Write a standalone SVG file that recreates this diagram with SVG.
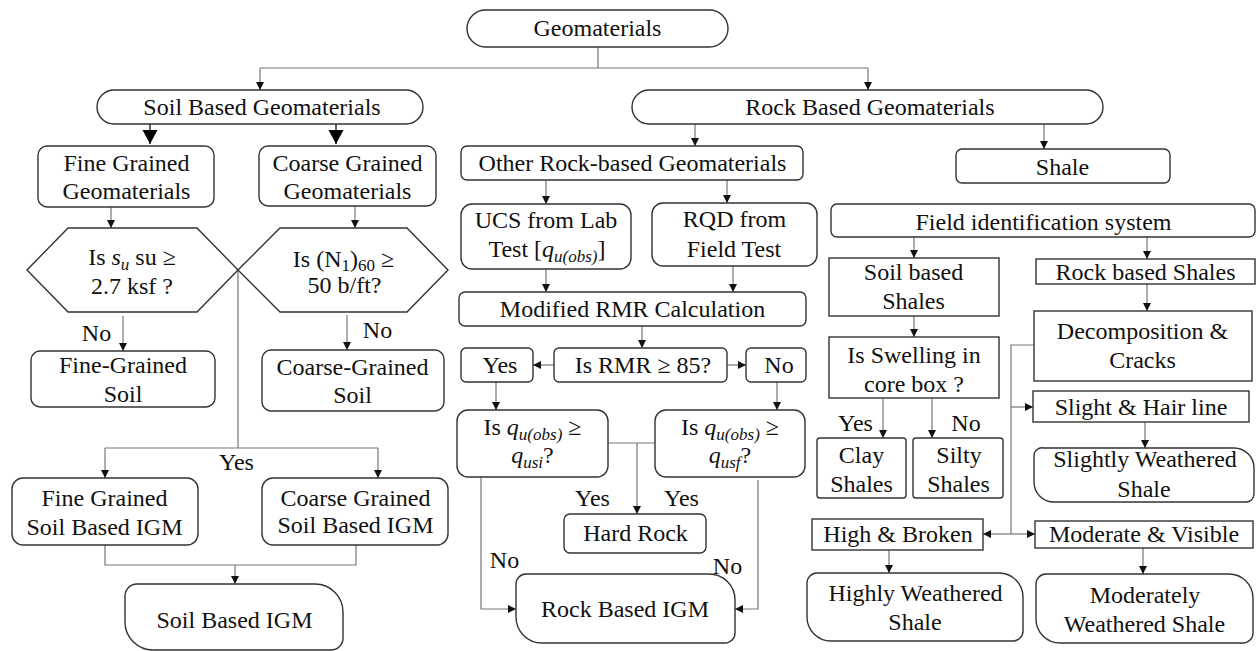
<svg xmlns="http://www.w3.org/2000/svg" width="1256" height="651" viewBox="0 0 1256 651" font-family="Liberation Serif, Times New Roman, serif">
<style>
.n{fill:#fff;stroke:#333;stroke-width:1.4}
.t{font-size:24px;fill:#111;text-anchor:middle}
.m{font-style:italic}
.s{font-size:17px}
.c{fill:none;stroke:#777;stroke-width:1.2}
.b{fill:none;stroke:#222;stroke-width:1.4}
</style>
<defs>
<marker id="a" markerUnits="userSpaceOnUse" markerWidth="9" markerHeight="9" refX="8" refY="4" orient="auto"><path d="M0,0 L8,4 L0,8 z" fill="#111"/></marker>
<marker id="big" markerUnits="userSpaceOnUse" markerWidth="15" markerHeight="16" refX="14" refY="7.5" orient="auto"><path d="M0,0 L14,7.5 L0,15 z" fill="#000"/></marker>
</defs>
<rect width="1256" height="651" fill="#fff"/>
<g font-family="Liberation Serif, Times New Roman, serif">
<g id="connectors">
<path class="c" d="M598,47 V68 M260,68 H868"/>
<path class="c" d="M260,68 V90" marker-end="url(#a)"/>
<path class="c" d="M868,68 V90" marker-end="url(#a)"/>
<path class="b" d="M150,124 V144" marker-end="url(#big)"/>
<path class="b" d="M336,124 V144" marker-end="url(#big)"/>
<path class="c" d="M111,207 V228" marker-end="url(#a)"/>
<path class="c" d="M355,206 V228" marker-end="url(#a)"/>
<path class="c" d="M123,316 V351" marker-end="url(#a)"/>
<path class="c" d="M347,315 V350" marker-end="url(#a)"/>
<path class="c" d="M238,270 V448 M105,448 H378"/>
<path class="c" d="M105,448 V478" marker-end="url(#a)"/>
<path class="c" d="M378,448 V478" marker-end="url(#a)"/>
<path class="c" d="M105,545 V565 H356 V545"/>
<path class="c" d="M235,565 V584" marker-end="url(#a)"/>
<path class="c" d="M695,124 V146" marker-end="url(#a)"/>
<path class="c" d="M1044,124 V149" marker-end="url(#a)"/>
<path class="c" d="M546,180 V204" marker-end="url(#a)"/>
<path class="c" d="M727,180 V203" marker-end="url(#a)"/>
<path class="c" d="M546,269 V292" marker-end="url(#a)"/>
<path class="c" d="M733,266 V292" marker-end="url(#a)"/>
<path class="c" d="M642,326 V348" marker-end="url(#a)"/>
<path class="c" d="M554,365 H533" marker-end="url(#a)"/>
<path class="c" d="M727,365 H746" marker-end="url(#a)"/>
<path class="c" d="M496,382 V410" marker-end="url(#a)"/>
<path class="c" d="M777,382 V410" marker-end="url(#a)"/>
<path class="c" d="M608,443 H655"/>
<path class="c" d="M637,443 V514" marker-end="url(#a)"/>
<path class="c" d="M481,477 V609 H516" marker-end="url(#a)"/>
<path class="c" d="M758,480 V609 H735" marker-end="url(#a)"/>
<path class="c" d="M914,237 V258" marker-end="url(#a)"/>
<path class="c" d="M1147,237 V259" marker-end="url(#a)"/>
<path class="c" d="M914,316 V337" marker-end="url(#a)"/>
<path class="c" d="M883,398 V438" marker-end="url(#a)"/>
<path class="c" d="M932,398 V438" marker-end="url(#a)"/>
<path class="c" d="M1147,284 V311" marker-end="url(#a)"/>
<path class="c" d="M1034,345 H1011 V534"/>
<path class="c" d="M1011,407 H1033" marker-end="url(#a)"/>
<path class="c" d="M1011,534 H983" marker-end="url(#a)"/>
<path class="c" d="M1011,534 H1035" marker-end="url(#a)"/>
<path class="c" d="M1145,422 V448" marker-end="url(#a)"/>
<path class="c" d="M889,550 V573" marker-end="url(#a)"/>
<path class="c" d="M1143,548 V574" marker-end="url(#a)"/>
<text class="t" x="96.5" y="341">No</text>
<text class="t" x="377.5" y="338">No</text>
<text class="t" x="236.5" y="470">Yes</text>
<text class="t" x="592.5" y="506">Yes</text>
<text class="t" x="681.5" y="506">Yes</text>
<text class="t" x="504.5" y="568">No</text>
<text class="t" x="727.5" y="574">No</text>
<text class="t" x="855.5" y="431">Yes</text>
<text class="t" x="966" y="431">No</text>
</g>

<g id="geomaterials"><rect class="n" x="467" y="10" width="261" height="37" rx="18.5"/><text class="t" x="597.5" y="36">Geomaterials</text></g>
<g id="soil-based"><rect class="n" x="97" y="90" width="326" height="34" rx="17"/><text class="t" x="262" y="115">Soil Based Geomaterials</text></g>
<g id="rock-based"><rect class="n" x="632" y="90" width="471" height="34" rx="17"/><text class="t" x="870" y="115">Rock Based Geomaterials</text></g>

<g id="fine-geo"><rect class="n" x="38" y="146" width="176" height="61" rx="9"/><text class="t" x="126.5" y="171">Fine Grained</text><text class="t" x="126.5" y="199">Geomaterials</text></g>
<g id="coarse-geo"><rect class="n" x="259" y="146" width="177" height="60" rx="9"/><text class="t" x="347.5" y="171">Coarse Grained</text><text class="t" x="347.5" y="199">Geomaterials</text></g>

<g id="hex-su"><path class="n" d="M27,270 L68,228 H197 L238,270 L197,312 H68 Z"/><text class="t" x="132" y="265">Is <tspan class="m">s</tspan><tspan class="m s" dy="5">u</tspan><tspan dy="-5"> su ≥</tspan></text><text class="t" x="132" y="294">2.7 ksf ?</text></g>
<g id="hex-n60"><path class="n" d="M238,270 L280,228 H407 L448,270 L407,312 H280 Z"/><text class="t" x="343.5" y="267">Is (N<tspan class="s" baseline-shift="-4">1</tspan>)<tspan class="s" baseline-shift="-4">60</tspan> ≥</text><text class="t" x="344.5" y="293">50 b/ft?</text></g>

<g id="fine-soil"><rect class="n" x="31" y="351" width="184" height="56" rx="9"/><text class="t" x="123" y="373">Fine-Grained</text><text class="t" x="123" y="402">Soil</text></g>
<g id="coarse-soil"><rect class="n" x="262" y="350" width="182" height="61" rx="9"/><text class="t" x="352.5" y="375">Coarse-Grained</text><text class="t" x="352.5" y="403">Soil</text></g>

<g id="fine-igm"><rect class="n" x="12" y="478" width="186" height="67" rx="11"/><text class="t" x="104.5" y="506">Fine Grained</text><text class="t" x="104.5" y="535">Soil Based IGM</text></g>
<g id="coarse-igm"><rect class="n" x="262" y="478" width="186" height="67" rx="11"/><text class="t" x="355.5" y="506">Coarse Grained</text><text class="t" x="355.5" y="533">Soil Based IGM</text></g>
<g id="soil-igm"><path class="n" d="M137,584 H315 A28,28 0 0 1 343,612 V638 A12,12 0 0 1 331,650 H153 A28,28 0 0 1 125,622 V596 A12,12 0 0 1 137,584 Z"/><text class="t" x="234.5" y="628">Soil Based IGM</text></g>

<g id="other-rock"><rect class="n" x="461" y="146" width="342" height="34" rx="6"/><text class="t" x="632.5" y="171">Other Rock-based Geomaterials</text></g>
<g id="ucs"><rect class="n" x="461" y="204" width="170" height="65" rx="11"/><text class="t" x="546" y="228">UCS from Lab</text><text class="t" x="547" y="257">Test [<tspan class="m">q</tspan><tspan class="m s" dy="5">u(obs)</tspan><tspan dy="-5">]</tspan></text></g>
<g id="rqd"><rect class="n" x="652" y="203" width="165" height="63" rx="11"/><text class="t" x="734.5" y="227">RQD from</text><text class="t" x="734" y="257">Field Test</text></g>
<g id="rmr-calc"><rect class="n" x="459" y="292" width="347" height="34" rx="6"/><text class="t" x="632.5" y="317">Modified RMR Calculation</text></g>
<g id="rmr-q"><rect class="n" x="554" y="348" width="173" height="34" rx="5"/><text class="t" x="643" y="373">Is RMR ≥ 85?</text></g>
<g id="rmr-yes"><rect class="n" x="461" y="348" width="72" height="34" rx="5"/><text class="t" x="500" y="373">Yes</text></g>
<g id="rmr-no"><rect class="n" x="746" y="348" width="60" height="34" rx="5"/><text class="t" x="779" y="373">No</text></g>
<g id="q-usi"><rect class="n" x="457" y="410" width="151" height="67" rx="11"/><text class="t" x="532.5" y="435">Is <tspan class="m">q</tspan><tspan class="m s" dy="5">u(obs)</tspan><tspan dy="-5"> ≥</tspan></text><text class="t" x="532.5" y="463"><tspan class="m">q</tspan><tspan class="m s" dy="5">usi</tspan><tspan dy="-5">?</tspan></text></g>
<g id="q-usf"><rect class="n" x="655" y="410" width="150" height="67" rx="11"/><text class="t" x="730" y="435">Is <tspan class="m">q</tspan><tspan class="m s" dy="5">u(obs)</tspan><tspan dy="-5"> ≥</tspan></text><text class="t" x="730" y="463"><tspan class="m">q</tspan><tspan class="m s" dy="5">usf</tspan><tspan dy="-5">?</tspan></text></g>
<g id="hard-rock"><rect class="n" x="564" y="514" width="142" height="39" rx="6"/><text class="t" x="635.5" y="541">Hard Rock</text></g>
<g id="rock-igm"><path class="n" d="M526,574 H709 A26,26 0 0 1 735,600 V633 A10,10 0 0 1 725,643 H542 A26,26 0 0 1 516,617 V584 A10,10 0 0 1 526,574 Z"/><text class="t" x="625" y="617">Rock Based IGM</text></g>

<g id="shale"><rect class="n" x="956" y="149" width="214" height="34" rx="6"/><text class="t" x="1062.5" y="175">Shale</text></g>
<g id="field-id"><rect class="n" x="831" y="204" width="424" height="33" rx="6"/><text class="t" x="1043.5" y="230">Field identification system</text></g>
<g id="soil-shales"><rect class="n" x="829" y="258" width="170" height="58"/><text class="t" x="913.5" y="280">Soil based</text><text class="t" x="913.5" y="309">Shales</text></g>
<g id="rock-shales"><rect class="n" x="1036" y="259" width="219" height="25"/><text class="t" x="1145.5" y="280">Rock based Shales</text></g>
<g id="swelling"><rect class="n" x="829" y="337" width="170" height="61"/><text class="t" x="914" y="363">Is Swelling in</text><text class="t" x="914" y="392">core box ?</text></g>
<g id="clay"><rect class="n" x="817" y="438" width="89" height="60" rx="3"/><text class="t" x="861.5" y="463">Clay</text><text class="t" x="861.5" y="492">Shales</text></g>
<g id="silty"><rect class="n" x="913" y="438" width="90" height="60" rx="3"/><text class="t" x="959" y="463">Silty</text><text class="t" x="958.5" y="492">Shales</text></g>
<g id="decomp"><rect class="n" x="1034" y="311" width="218" height="70"/><text class="t" x="1142.5" y="339">Decomposition &amp;</text><text class="t" x="1142.5" y="368">Cracks</text></g>
<g id="slight"><rect class="n" x="1033" y="391" width="216" height="31"/><text class="t" x="1141" y="415">Slight &amp; Hair line</text></g>
<g id="slightly-w"><path class="n" d="M1044,448 H1234 A20,20 0 0 1 1254,468 V494 A8,8 0 0 1 1246,502 H1054 A20,20 0 0 1 1034,482 V456 A8,8 0 0 1 1044,448 Z"/><text class="t" x="1145" y="467">Slightly Weathered</text><text class="t" x="1144" y="497">Shale</text></g>
<g id="high-broken"><rect class="n" x="812" y="519" width="171" height="31"/><text class="t" x="898" y="542">High &amp; Broken</text></g>
<g id="moderate"><rect class="n" x="1035" y="521" width="218" height="27"/><text class="t" x="1144" y="542">Moderate &amp; Visible</text></g>
<g id="highly-w"><path class="n" d="M817,573 H999 A24,24 0 0 1 1023,597 V631 A10,10 0 0 1 1013,641 H831 A24,24 0 0 1 807,617 V583 A10,10 0 0 1 817,573 Z"/><text class="t" x="915.5" y="601">Highly Weathered</text><text class="t" x="915" y="630">Shale</text></g>
<g id="moderately-w"><path class="n" d="M1046,574 H1229 A24,24 0 0 1 1253,598 V633 A10,10 0 0 1 1243,643 H1060 A24,24 0 0 1 1036,619 V584 A10,10 0 0 1 1046,574 Z"/><text class="t" x="1145" y="603">Moderately</text><text class="t" x="1144.5" y="632">Weathered Shale</text></g>
</g>
</svg>
